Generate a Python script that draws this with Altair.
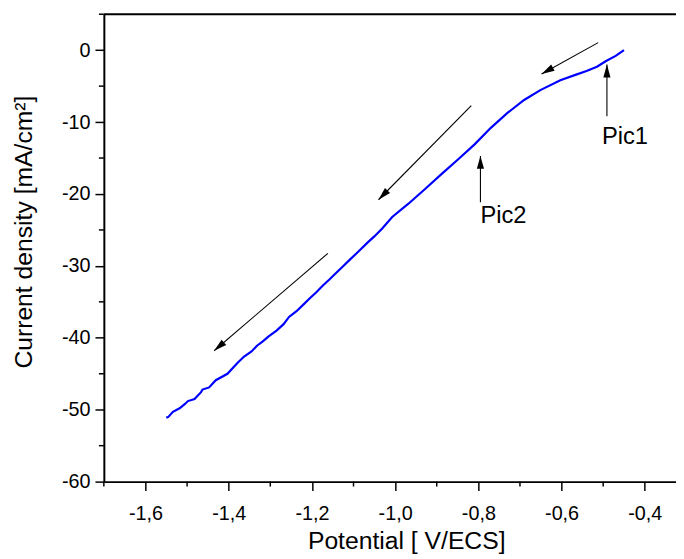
import math
import altair as alt
import pandas as pd

# ---- data ----
potential = [-1.550, -1.545, -1.534, -1.518, -1.505, -1.498, -1.482, -1.467, -1.463, -1.447,
             -1.431, -1.403, -1.379, -1.363, -1.345, -1.332, -1.318, -1.304, -1.285, -1.268,
             -1.255, -1.237, -1.220, -1.205, -1.190, -1.173, -1.158, -1.142, -1.125, -1.110,
             -1.090, -1.067, -1.050, -1.031, -1.007, -0.968, -0.928, -0.888, -0.849, -0.809,
             -0.770, -0.730, -0.690, -0.651, -0.603, -0.565, -0.540, -0.515, -0.493, -0.470,
             -0.450]
current = [-51.1, -51.0, -50.3, -49.8, -49.2, -48.8, -48.5, -47.6, -47.2, -46.9,
           -45.9, -45.0, -43.5, -42.6, -41.9, -41.1, -40.5, -39.8, -39.0, -38.1,
           -37.1, -36.3, -35.35, -34.5, -33.7, -32.7, -31.9, -31.0, -30.05, -29.2,
           -28.1, -26.8, -25.9, -24.8, -23.2, -21.35, -19.3, -17.2, -15.2, -13.1,
           -10.8, -8.73, -6.93, -5.55, -4.17, -3.4, -2.9, -2.3, -1.5, -0.8,
           0.0]

# sweep-direction arrows (start -> tip)
arrow_x1 = [-0.512, -0.817, -1.1615]
arrow_y1 = [1.05, -7.72, -28.25]
arrow_x2 = [-0.648, -1.040, -1.435]
arrow_y2 = [-3.3, -20.8, -41.8]

# peak markers
pic_labels = ["Pic1", "Pic2"]
pic_x = [-0.491, -0.795]
pic_y_start = [-9.2, -21.15]
pic_y_tip = [-2.0, -14.7]
pic_text_x = [-0.503, -0.795]
pic_text_y = [-13.1, -24.1]

x_major = [-1.6, -1.4, -1.2, -1.0, -0.8, -0.6, -0.4]
x_minor = [-1.7, -1.5, -1.3, -1.1, -0.9, -0.7, -0.5]
y_major = [0, -10, -20, -30, -40, -50, -60]
y_minor = [5, -5, -15, -25, -35, -45, -55]

X_DOMAIN = [-1.7, -0.325]
Y_DOMAIN = [-60, 5]
W, H = 579, 473
FONT = "Liberation Sans"

xs = alt.Scale(domain=X_DOMAIN, nice=False, zero=False)
ys = alt.Scale(domain=Y_DOMAIN, nice=False, zero=False)

curve_df = pd.DataFrame({"x": potential, "y": current})

# arrows table
px_per_x = W / (X_DOMAIN[1] - X_DOMAIN[0])
px_per_y = H / (Y_DOMAIN[1] - Y_DOMAIN[0])
ax1 = arrow_x1 + pic_x
ay1 = arrow_y1 + pic_y_start
ax2 = arrow_x2 + pic_x
ay2 = arrow_y2 + pic_y_tip
angles = []
for a, b, c, d in zip(ax1, ay1, ax2, ay2):
    dx = (c - a) * px_per_x
    dy = -(d - b) * px_per_y
    angles.append(math.degrees(math.atan2(dx, -dy)) % 360)
arrows_df = pd.DataFrame({"x1": ax1, "y1": ay1, "x2": ax2, "y2": ay2, "angle": angles})
text_df = pd.DataFrame({"label": pic_labels, "x": pic_text_x, "y": pic_text_y})

x_axis = alt.Axis(values=x_major, title="Potential [ V/ECS]", tickSize=9, tickWidth=1.5,
                  labelPadding=13, titlePadding=6, grid=False, domainWidth=2,
                  titleX=306,
                  labelExpr="replace(replace(format(datum.value, '.1f'), '.', ','), '\u2212', '-')",
                  labelFlush=False)
y_axis = alt.Axis(values=y_major, title="Current density [mA/cm²]", tickSize=9, tickWidth=1.5,
                  labelPadding=5, titlePadding=25, grid=False, domainWidth=2,
                  titleY=220,
                  labelExpr="replace(format(datum.value, 'd'), '\u2212', '-')")

curve = alt.Chart(curve_df).mark_line(color="#0000ff", strokeWidth=2.2).encode(
    x=alt.X("x:Q", scale=xs, axis=x_axis),
    y=alt.Y("y:Q", scale=ys, axis=y_axis),
    order="x:Q",
)

shafts = alt.Chart(arrows_df).mark_rule(color="black", strokeWidth=1.1).encode(
    x=alt.X("x1:Q", scale=xs), y=alt.Y("y1:Q", scale=ys),
    x2="x2:Q", y2="y2:Q",
)

heads = alt.Chart(arrows_df).mark_point(
    shape="M0,0 L0.5,1.8 L-0.5,1.8 Z", filled=True, color="black", opacity=1, size=210
).encode(
    x=alt.X("x2:Q", scale=xs), y=alt.Y("y2:Q", scale=ys),
    angle=alt.Angle("angle:Q", scale=None),
)

labels = alt.Chart(text_df).mark_text(
    font=FONT, fontSize=24, align="left", baseline="alphabetic", color="black"
).encode(
    x=alt.X("x:Q", scale=xs), y=alt.Y("y:Q", scale=ys), text="label:N",
)

y_minor_df = pd.DataFrame({"v": y_minor})
y_minor_ticks = alt.Chart(y_minor_df).mark_rule(color="black", strokeWidth=1.5, clip=False).encode(
    y=alt.Y("v:Q", scale=ys), x=alt.value(-5), x2=alt.value(0),
)
x_minor_df = pd.DataFrame({"v": x_minor})
x_minor_ticks = alt.Chart(x_minor_df).mark_rule(color="black", strokeWidth=1.5, clip=False).encode(
    x=alt.X("v:Q", scale=xs), y=alt.value(H), y2=alt.value(H + 5),
)

top_border = alt.Chart(pd.DataFrame({"a": [0]})).mark_rule(color="black", strokeWidth=2).encode(
    y=alt.value(0), x=alt.value(0), x2=alt.value(W),
)

chart = alt.layer(
    curve, shafts, heads, labels, y_minor_ticks, x_minor_ticks, top_border
).properties(
    width=W, height=H,
    padding={"left": 97, "top": 3, "right": 0, "bottom": 75},
    autosize=alt.AutoSizeParams(type="none"),
    background="white",
).configure_view(stroke=None).configure_axis(
    labelFont=FONT, titleFont=FONT, labelFontSize=20, titleFontSize=25,
    titleFontWeight="normal", labelColor="black", titleColor="black",
    domainColor="black", tickColor="black",
)

chart.save("out.html", embed_options={"renderer": "svg", "actions": False})
